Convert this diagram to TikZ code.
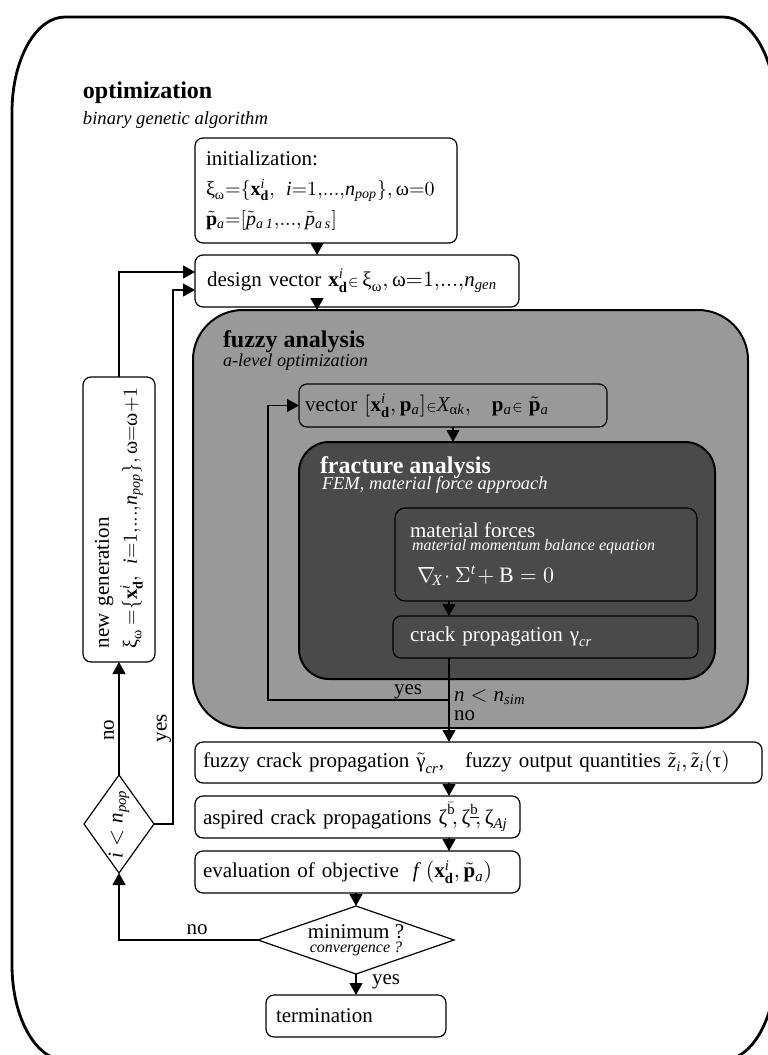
\documentclass[tikz,border=0pt]{standalone}
\usepackage{amssymb}
\usepackage{amsmath}
\usepackage{fontspec}
\setmainfont{Liberation Serif}
\usepackage{tikz}
\usetikzlibrary{calc,arrows.meta,shapes.geometric}
\definecolor{fuzzygray}{gray}{0.6}
\definecolor{fracgray}{gray}{0.29}
\newcommand{\xd}{\mathbf{x}^{\mathit{i}}_{\mathbf{d}}}
\newcommand{\pa}{\tilde{\mathbf{p}}_{\mathit{a}}}
\newcommand{\el}{{\scriptstyle\in}}

\begin{document}
\begin{tikzpicture}[x=0.5pt,y=-0.5pt,inner sep=0pt,outer sep=0pt,
    every node/.style={font=\fontsize{10.5}{14}\selectfont},
    box/.style={draw,fill=white,rounded corners=4pt,line width=0.6pt,anchor=north west,align=left},
    area/.style={draw,rounded corners=#1,line width=1pt,anchor=north west},
    arr/.style={line width=0.6pt,-{Triangle[width=6.5pt,length=6pt]}},
    ttl/.style={anchor=west,font=\fontsize{12}{14}\selectfont\bfseries},
    sub_ttl/.style={anchor=west,font=\fontsize{9.2}{11}\selectfont\itshape}]
    \useasboundingbox (0,0) rectangle (767,1055);
    % outer frame
    \draw[line width=1.4pt] (12,112) .. controls (12,59.6) and (35.7,17) .. (65,17) -- (723,17)
        .. controls (752.3,17) and (776,59.6) .. (776,112) -- (776,965)
        .. controls (776,1017.4) and (752.3,1060) .. (723,1060) -- (65,1060)
        .. controls (35.7,1060) and (12,1017.4) .. (12,965) -- cycle;
    \node[ttl] (opt_ttl) at (83,93) {optimization};
    \node[sub_ttl,font=\fontsize{9.3}{11}\selectfont\itshape] (opt_sub) at (83,120) {binary genetic algorithm};
    % 
    \node[box,minimum height=52.5pt,inner xsep=5.5pt,text width=120pt,font=\fontsize{10.5}{15}\selectfont] (init_box) at (195,138)
    {\mbox{initialization:}\\
    \mbox{\fontsize{10}{15}\selectfont$\text{ξ}_{\text{ω}}{=}\{\xd{,}\;\;\mathit{i}{=}1{,}...{,}\mathit{n}_{\mathit{pop}}\}{,}\,\text{ω}{=}0$}\\
    \mbox{\fontsize{10}{15}\selectfont$\pa{=}[\tilde{\mathit{p}}_{\mathit{a\,1}}{,}...{,}\,\tilde{\mathit{p}}_{\mathit{a\,s}}]$}};
    \node[box,minimum height=26pt,inner xsep=6pt,text width=150pt] (design_vec) at (195,255)
    {\mbox{design vector $\xd\el\,\text{ξ}_{\text{ω}}{,}\,\text{ω}{=}1{,}...{,}\mathit{n}_{\mathit{gen}}$}};
    % fuzzy analysis
    \node[area=25pt,fill=fuzzygray,minimum width=277.5pt,minimum height=209pt] (fuzzy_box) at (193,310) {};
    \node[ttl] (fuzzy_ttl) at (223,342) {fuzzy analysis};
    \node[sub_ttl,font=\fontsize{9.1}{11}\selectfont\itshape] (fuzzy_sub) at (223,362) {a-level optimization};
    \node[box,fill=fuzzygray,minimum height=21.5pt,inner xsep=3pt,text width=148pt] (vec_box) at (299,384)
    {\mbox{vector $[\xd{,}\,\mathbf{p}_{\mathit{a}}]\el\mathit{X}_{\text{α}\mathit{k}}{,}\quad\mathbf{p}_{\mathit{a}}\el\;\pa$}};
    % fracture analysis
    \node[area=15pt,fill=fracgray,minimum width=208pt,minimum height=118.5pt] (frac_box) at (299,442) {};
    \node[ttl,text=white] (frac_ttl) at (320,468) {fracture analysis};
    \node[sub_ttl,text=white] (frac_sub) at (322,485) {FEM, material force approach};
    \node[box,fill=fracgray,rounded corners=5pt,minimum width=151pt,minimum height=46.5pt] (mat_box) at (395,508) {};
    \node[anchor=west,text=white] (mat_ttl) at (410,530) {material forces};
    \node[anchor=west,text=white,font=\fontsize{8}{9}\selectfont\itshape] (mat_sub) at (412,547) {material momentum balance equation};
    \node[anchor=west,text=white,font=\fontsize{11}{13}\selectfont] (mat_eq) at (417,576) {$\nabla_{\!\mathit{X}}\!\cdot\Sigma^{\mathit{t}}\!+\mathrm{B}=0$};
    \node[box,fill=fracgray,text=white,minimum height=21pt,inner xsep=8.5pt,text width=135.5pt] (crack_box) at (393,616)
    {\mbox{crack propagation $\text{γ}_{\mathit{cr}}$}};
    % results
    \node[box,minimum height=20.5pt,inner xsep=4pt,text width=275.5pt] (fuzzy_crack) at (195,742)
    {\mbox{fuzzy crack propagation $\tilde{\text{γ}}_{\mathit{cr}}$,\quad fuzzy output quantities $\tilde{\mathit{z}}_{\mathit{i}}{,}\,\tilde{\mathit{z}}_{\mathit{i}}(\text{τ})$}};
    \node[box,minimum height=21pt,inner xsep=4pt,text width=154.5pt] (aspired) at (195,796)
    {\mbox{aspired crack propagations $\text{ζ}^{\bar{\mathrm{b}}}\!{,}\,\text{ζ}^{\underline{\mathrm{b}}}\!{,}\,\text{ζ}_{\mathit{Aj}}$}};
    \node[box,minimum height=21pt,inner xsep=4pt,text width=154.5pt] (eval_obj) at (195,851)
    {\mbox{evaluation of objective\ \ $\mathit{f}\ (\xd{,}\,\pa)$}};
    \node[diamond,draw,line width=0.6pt,minimum width=98pt,minimum height=34pt] (minimum) at (356,940) {};
    \node (min_txt) at (356,932) {minimum ?};
    \node[font=\fontsize{8}{9}\selectfont\itshape] (min_sub) at (356,949) {convergence ?};
    \node[box,minimum height=21pt,inner xsep=5pt,text width=80pt] (termination) at (266,995) {termination};
    % new generation loop
    \node[box,anchor=center,rotate=90,minimum height=36pt,inner xsep=7pt,text width=128.5pt] (new_gen) at (119,519.5)
    {\mbox{new generation}\\
    \mbox{\fontsize{10}{14}\selectfont$\text{ξ}_{\text{ω}}\,{=}\{\xd{,}\;\;\mathit{i}{=}1{,}...{,}\mathit{n}_{\mathit{pop}}\}{,}\,\text{ω}{=}\text{ω}{+}1$}};
    \node[diamond,draw,fill=white,line width=0.6pt,minimum width=35pt,minimum height=49pt] (check_pop) at (119,824) {};
    \node[rotate=90] (pop_txt) at (check_pop.center) {$\mathit{i}<\mathit{n}_{\mathit{pop}}$};
    % connectors
    \coordinate (col_a) at (317,0);
    \coordinate (col_b) at (449,0);
    \coordinate (loop_x) at (268,0);
    \coordinate (yes_x) at (173,0);
    \coordinate (sim_split) at (449,700);
    \draw[arr] (init_box.south -| col_a) -- (design_vec.north -| col_a);
    \draw[arr] (design_vec.south -| col_a) -- (fuzzy_box.north -| col_a);
    \draw[arr] (vec_box.south) -- (vec_box.south |- frac_box.north);
    \draw[arr] (mat_box.south -| col_b) -- (crack_box.north -| col_b);
    \draw[arr] (crack_box.south -| col_b) -- (fuzzy_crack.north -| col_b);
    \draw[arr] (sim_split) -| (loop_x |- vec_box.west) -- (vec_box.west);
    \draw[arr] (fuzzy_crack.south -| col_b) -- (aspired.north -| col_b);
    \draw[arr] (aspired.south -| col_b) -- (eval_obj.north -| col_b);
    \draw[arr] (eval_obj.south -| minimum.north) -- (minimum.north);
    \draw[arr] (minimum.south) -- (termination.north);
    \draw[arr] (minimum.west) -| (check_pop.south);
    \draw[arr] (check_pop.north) -- (new_gen.west);
    \draw[arr] (new_gen.east) |- ([yshift=4.5pt]design_vec.west);
    \draw[arr] (check_pop.east) -- (yes_x |- check_pop.east) |- ([yshift=-4.5pt]design_vec.west);
    % labels
    \node[anchor=east] (yes_sim) at (422,692) {yes};
    \node[anchor=west] (cond_sim) at (454,697) {$\mathit{n}<\mathit{n}_{\mathit{sim}}$};
    \node[anchor=west] (no_sim) at (454,716) {no};
    \node (no_min) at (197,930) {no};
    \node[anchor=west] (yes_min) at (372,982) {yes};
    \node[rotate=90] (no_pop) at (109,730) {no};
    \node[rotate=90] (yes_pop) at (164,728) {yes};
\end{tikzpicture}
\end{document}
